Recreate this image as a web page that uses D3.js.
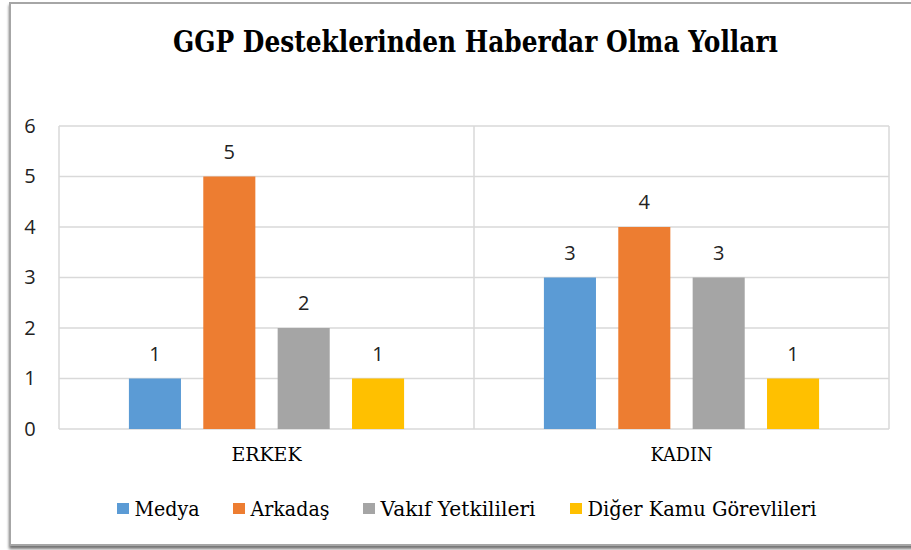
<!DOCTYPE html>
<html>
<head>
<meta charset="utf-8">
<script src="https://cdn.jsdelivr.net/npm/d3@7/dist/d3.min.js"></script>
<style>
  html, body { margin: 0; padding: 0; background: #fff; }
  svg { display: block; }
  .serif { font-family: "DejaVu Serif", "Liberation Serif", serif; }
  .sans { font-family: "Open Sans", "Noto Sans", sans-serif; }
</style>
</head>
<body>
<svg id="chart" width="911" height="550"></svg>
<script>
const title = "GGP Desteklerinden Haberdar Olma Yolları";
const categories = ["ERKEK", "KADIN"];
const seriesNames = ["Medya", "Arkadaş", "Vakıf Yetkilileri", "Diğer Kamu Görevlileri"];
const seriesColors = ["#5b9bd5", "#ed7d31", "#a5a5a5", "#ffc000"];
const medya = [1, 3];
const arkadas = [5, 4];
const vakif = [2, 3];
const diger = [1, 1];
const yTicks = [0, 1, 2, 3, 4, 5, 6];

const seriesValues = [medya, arkadas, vakif, diger];

const svg = d3.select("#chart");

const defs = svg.append("defs");
const f = defs.append("filter").attr("id", "sh").attr("x", "-5%").attr("y", "-5%").attr("width", "110%").attr("height", "115%");
f.append("feGaussianBlur").attr("in", "SourceAlpha").attr("stdDeviation", 1.8);
f.append("feOffset").attr("dx", 0).attr("dy", 2.5).attr("result", "ob");
f.append("feComponentTransfer").append("feFuncA").attr("type", "linear").attr("slope", 0.55);
const m = f.append("feMerge");
m.append("feMergeNode");
m.append("feMergeNode").attr("in", "SourceGraphic");

svg.append("rect")
  .attr("x", 10).attr("y", 3).attr("width", 1000).attr("height", 542)
  .attr("fill", "#fff").attr("stroke", "#a6a6a6").attr("stroke-width", 2)
  .attr("filter", "url(#sh)");

const plot = { left: 59, right: 889, top: 126, bottom: 429 };

const x0 = d3.scaleBand().domain(categories).range([plot.left, plot.right]).paddingInner(0).paddingOuter(0);
const x1 = d3.scaleBand().domain(seriesNames).range([0, x0.bandwidth()]).paddingInner(0.3).paddingOuter(0.94);
const y = d3.scaleLinear().domain([0, 6]).range([plot.bottom, plot.top]);

const grid = svg.append("g");
grid.selectAll("line.h").data(yTicks).join("line")
  .attr("x1", plot.left).attr("x2", plot.right)
  .attr("y1", d => y(d)).attr("y2", d => y(d))
  .attr("stroke", "#d9d9d9").attr("stroke-width", 1.5);
const bounds = categories.map(c => x0(c)).concat([x0(categories[categories.length - 1]) + x0.bandwidth()]);
grid.selectAll("line.v").data(bounds).join("line")
  .attr("x1", d => d).attr("x2", d => d)
  .attr("y1", plot.top).attr("y2", plot.bottom)
  .attr("stroke", "#d9d9d9").attr("stroke-width", 1.5);

const yAxis = d3.axisLeft(y).tickValues(yTicks).tickSize(0).tickPadding(0).tickFormat(d3.format("d"));
const ya = svg.append("g").attr("transform", "translate(30,0)").call(yAxis);
ya.select(".domain").remove();
ya.attr("font-family", null).attr("font-size", null);
ya.selectAll("text")
  .attr("class", "sans")
  .attr("text-anchor", "middle")
  .style("font-size", "20px")
  .attr("fill", "#222");

const groups = svg.append("g").selectAll("g").data(categories).join("g")
  .attr("transform", c => `translate(${x0(c)},0)`);

groups.selectAll("rect").data((c, ci) => seriesNames.map((s, si) => ({ s, si, v: seriesValues[si][ci] }))).join("rect")
  .attr("x", d => x1(d.s))
  .attr("width", x1.bandwidth())
  .attr("y", d => y(d.v))
  .attr("height", d => y(0) - y(d.v))
  .attr("fill", d => seriesColors[d.si]);

groups.selectAll("text").data((c, ci) => seriesNames.map((s, si) => ({ s, si, v: seriesValues[si][ci] }))).join("text")
  .attr("class", "sans")
  .attr("x", d => x1(d.s) + x1.bandwidth() / 2)
  .attr("y", d => y(d.v) - 18)
  .attr("text-anchor", "middle")
  .style("font-size", "20px")
  .attr("fill", "#222")
  .text(d => d.v);

const xAxis = d3.axisBottom(x0).tickSize(0).tickPadding(0);
const xa = svg.append("g").attr("transform", "translate(0,461)").call(xAxis);
xa.select(".domain").remove();
xa.attr("font-family", null).attr("font-size", null);
const catWidths = [70, 62];
xa.selectAll("text")
  .attr("class", "serif")
  .attr("dy", 0).attr("y", 0)
  .style("font-size", "19px")
  .attr("textLength", (d, i) => catWidths[i])
  .attr("lengthAdjust", "spacingAndGlyphs")
  .attr("fill", "#000");

svg.append("text")
  .attr("class", "serif")
  .attr("x", 475.5).attr("y", 52)
  .attr("text-anchor", "middle")
  .style("font-weight", "bold")
  .style("font-size", "30px")
  .attr("textLength", 605)
  .attr("lengthAdjust", "spacingAndGlyphs")
  .attr("fill", "#000")
  .text(title);

const legendX = [117, 233, 363, 570];
const legendW = [65, 79, 155, 229];
const lg = svg.append("g").selectAll("g").data(seriesNames).join("g")
  .attr("transform", (d, i) => `translate(${legendX[i]},0)`);
lg.append("rect")
  .attr("x", 0).attr("y", 503).attr("width", 12).attr("height", 11)
  .attr("fill", (d, i) => seriesColors[i]);
lg.append("text")
  .attr("class", "serif")
  .attr("x", 17.5).attr("y", 515.5)
  .style("font-size", "21px")
  .attr("textLength", (d, i) => legendW[i])
  .attr("lengthAdjust", "spacingAndGlyphs")
  .attr("fill", "#000")
  .text(d => d);
</script>
</body>
</html>
